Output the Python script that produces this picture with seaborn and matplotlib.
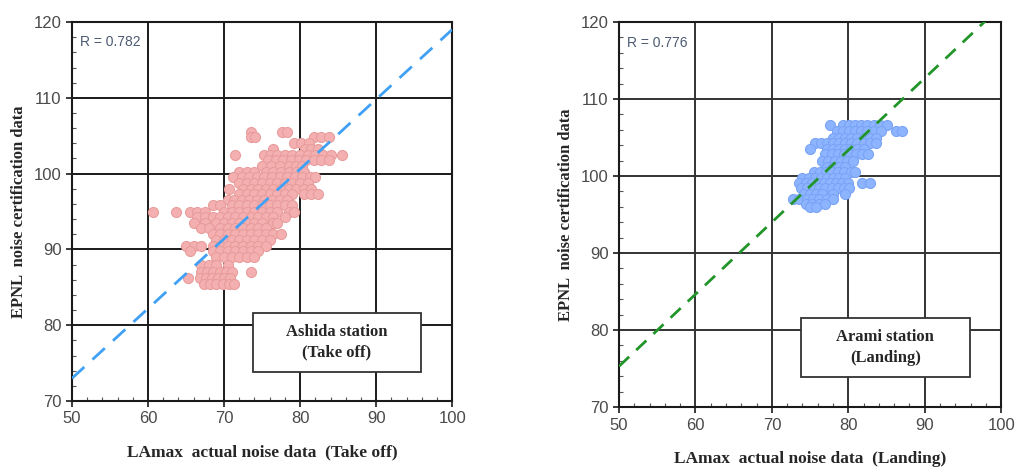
import numpy as np
import pandas as pd
import matplotlib
matplotlib.use('Agg')
import matplotlib.pyplot as plt
from matplotlib.patches import Rectangle
from matplotlib.ticker import MultipleLocator
import seaborn as sns

# --- datos ---
# Ashida (despegue): filas de puntos (y, lista de x)
ashida_filas = [
    (105.5, [73.5, 77.6, 78.3]),
    (104.8, [73.6, 74.1, 81.8, 82.8, 83.8]),
    (104.0, [79.2, 80.1, 81.2]),
    (103.2, [76.5, 80.6, 81.5, 82.3]),
    (102.5, [71.5, 75.2, 76.0, 77.0, 78.0, 79.0, 80.0, 81.0, 82.0, 83.0, 84.0, 85.5]),
    (101.8, [75.8, 76.8, 77.8, 78.8, 79.8, 80.8, 81.8, 82.8, 83.8]),
    (101.0, [75.0, 76.2, 77.4, 78.6, 79.5, 80.2]),
    (100.2, [72.0, 73.0, 74.0, 75.5, 76.5, 77.5, 78.5, 79.5, 80.5]),
    (99.5, [71.2, 72.3, 73.3, 74.3, 75.3, 76.3, 77.3, 78.3, 79.3, 80.3, 81.3, 82.0]),
    (98.7, [72.0, 73.0, 74.0, 75.0, 76.0, 77.0, 78.0, 79.0, 80.0, 81.0]),
    (98.0, [70.6, 72.5, 73.5, 74.5, 75.5, 76.5, 77.5, 78.5, 79.5, 80.5, 81.5]),
    (97.3, [72.0, 73.0, 74.0, 75.0, 76.0, 77.0, 78.0, 79.0, 80.5, 81.5, 82.3]),
    (96.5, [70.5, 71.3, 72.3, 73.3, 74.3, 75.3, 76.3, 77.3, 78.3]),
    (95.8, [68.5, 69.5, 71.0, 72.0, 73.0, 74.0, 75.0, 76.0, 77.0, 78.0, 79.0]),
    (95.0, [60.7, 63.7, 65.5, 66.5, 67.5, 70.0, 71.0, 72.0, 73.0, 74.0, 75.0, 76.0, 77.0, 78.5, 79.2]),
    (94.3, [66.5, 67.5, 68.5, 69.5, 70.5, 71.5, 72.5, 73.5, 74.5, 75.5, 76.5, 78.0]),
    (93.5, [66.0, 67.5, 69.0, 70.0, 71.0, 72.0, 73.0, 74.0, 75.0, 76.5, 77.0]),
    (92.8, [67.0, 68.0, 69.5, 70.5, 71.5, 72.5, 73.5, 74.5, 75.5]),
    (92.0, [68.5, 69.5, 70.5, 71.5, 72.5, 73.5, 74.5, 75.5, 76.5, 77.5]),
    (91.3, [69.0, 70.0, 71.0, 72.0, 73.0, 74.0, 75.0, 76.0]),
    (90.5, [65.0, 66.0, 67.0, 68.5, 69.5, 70.5, 71.5, 72.5, 73.5, 74.5, 75.5]),
    (89.8, [65.5, 68.5, 69.5, 70.5, 71.5, 72.5, 73.5, 74.5]),
    (89.0, [69.0, 70.0, 71.0, 72.0, 73.0, 74.0]),
    (88.0, [67.0, 68.0, 69.0, 70.5]),
    (87.0, [67.0, 67.8, 68.6, 69.4, 70.2, 71.0, 73.5]),
    (86.2, [65.2, 66.8, 67.6, 68.4, 69.2, 70.0, 70.8]),
    (85.4, [67.3, 68.1, 68.9, 69.8, 70.6, 71.3]),
]

# Arami (aterrizaje)
arami_filas = [
    (106.6, [77.6, 79.3, 80.1, 80.9, 81.7, 82.5, 83.3, 84.1, 85.1]),
    (105.8, [78.5, 79.3, 80.1, 80.9, 81.7, 82.5, 83.3, 84.3, 86.2, 87.0]),
    (105.0, [78.0, 78.8, 79.6, 80.4, 81.2, 82.0, 82.8, 83.6]),
    (104.3, [75.6, 76.4, 77.2, 78.0, 78.8, 79.6, 80.4, 81.2, 82.0, 82.8, 83.6]),
    (103.5, [75.0, 77.2, 78.0, 78.8, 79.6, 80.4, 81.2, 82.0]),
    (102.8, [77.0, 77.8, 78.6, 79.4, 80.2, 81.0, 81.8, 82.6]),
    (102.0, [76.6, 77.4, 78.2, 79.0, 79.8, 80.6]),
    (101.2, [77.2, 78.0, 78.8, 79.6]),
    (100.5, [75.5, 76.3, 77.1, 77.9, 78.7, 79.5, 80.3, 80.9]),
    (99.8, [74.0, 74.8, 75.6, 76.4, 77.2, 78.0, 78.8, 79.6]),
    (99.1, [73.6, 74.4, 75.2, 76.0, 76.8, 77.6, 78.4, 79.2, 80.0, 81.8, 82.8]),
    (98.4, [73.8, 74.6, 75.4, 76.2, 77.0, 77.8, 78.6, 79.4, 80.1]),
    (97.7, [74.2, 75.0, 75.8, 76.6, 78.0, 79.6]),
    (97.0, [72.8, 73.6, 74.6, 75.4, 76.2, 77.2, 78.0]),
    (96.4, [74.5, 75.3, 76.1, 76.9]),
    (96.0, [75.0, 75.8]),
]

# rectas de ajuste
ashida_linea_x = [50, 100]
ashida_linea_y = [73.0, 119.0]
arami_linea_x = [50, 98]
arami_linea_y = [75.3, 120.2]

r_ashida = 'R = 0.782'
r_arami = 'R = 0.776'


def filas_a_df(filas):
    xs, ys = [], []
    for y, lista in filas:
        for x in lista:
            xs.append(x)
            ys.append(y)
    return pd.DataFrame({'LAmax': xs, 'EPNL': ys})


df_ashida = filas_a_df(ashida_filas)
df_arami = filas_a_df(arami_filas)

sns.set_style('white')
plt.rcParams['font.family'] = ['Liberation Sans', 'DejaVu Sans']

fig = plt.figure(figsize=(10.19, 4.69), dpi=100)
ax1 = fig.add_axes([0.0707, 0.145, 0.373, 0.808])
ax2 = fig.add_axes([0.6075, 0.132, 0.375, 0.821])

paneles = [
    (ax1, df_ashida, '#f4b0b0', '#e89c9c', '#1a1a1a', ashida_linea_x, ashida_linea_y, '#3fa0f5', (6, 4),
     r_ashida, 'Ashida station\n(Take off)', 'LAmax  actual noise data  (Take off)'),
    (ax2, df_arami, '#8db5ff', '#7aa3f5', '#333333', arami_linea_x, arami_linea_y, '#22952a', (5, 3.5),
     r_arami, 'Arami station\n(Landing)', 'LAmax  actual noise data  (Landing)'),
]

for ax, df, relleno, borde, gcol, lx, ly, lcol, dash, rtxt, caja, xlab in paneles:
    ax.set_xlim(50, 100)
    ax.set_ylim(70, 120)
    ax.xaxis.set_major_locator(MultipleLocator(10))
    ax.yaxis.set_major_locator(MultipleLocator(10))
    ax.xaxis.set_minor_locator(MultipleLocator(2))
    ax.yaxis.set_minor_locator(MultipleLocator(2))
    ax.grid(True, which='major', color=gcol, linewidth=1.4, zorder=0)
    ax.set_axisbelow(True)

    sns.scatterplot(data=df, x='LAmax', y='EPNL', ax=ax, s=52, color=relleno,
                    edgecolor=borde, linewidth=0.8, zorder=3)
    sns.lineplot(x=lx, y=ly, ax=ax, color=lcol, linewidth=2.0, zorder=4)
    ax.lines[-1].set_dashes(dash)

    for sp in ax.spines.values():
        sp.set_color('#1a1a1a')
        sp.set_linewidth(1.5)

    ax.tick_params(which='major', direction='out', length=4, width=1.2,
                   labelsize=12, labelcolor='#4a4a4a', color='#1a1a1a',
                   bottom=True, left=True)
    ax.tick_params(which='minor', direction='in', length=3, width=0.8,
                   color='#555555', bottom=True, left=True)

    ax.text(0.02, 0.965, rtxt, transform=ax.transAxes, ha='left', va='top',
            fontsize=10, color='#4b5a72')

    ax.add_patch(Rectangle((0.476, 0.077), 0.442, 0.155, transform=ax.transAxes,
                           facecolor='white', edgecolor='#333333', linewidth=1.3,
                           zorder=5))
    ax.text(0.697, 0.155, caja, transform=ax.transAxes, ha='center', va='center',
            fontsize=12, fontweight='bold', family='Liberation Serif',
            linespacing=1.4, zorder=6)

    ax.set_xlabel(xlab, fontsize=12.5, fontweight='bold', family='Liberation Serif',
                  labelpad=13)
    ax.set_ylabel('EPNL  noise certification data', fontsize=12, fontweight='bold',
                  family='Liberation Serif', labelpad=5)

fig.savefig('out.png', dpi=100)
